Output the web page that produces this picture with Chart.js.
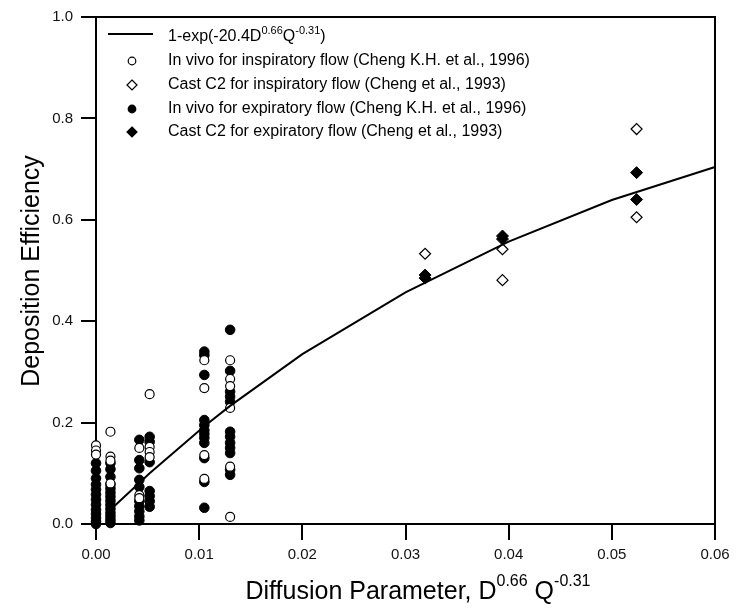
<!DOCTYPE html>
<html>
<head>
<meta charset="utf-8">
<script src="https://cdn.jsdelivr.net/npm/chart.js@4.4.1/dist/chart.umd.min.js"></script>
<style>
  html, body { margin: 0; padding: 0; background: #fff; }
</style>
</head>
<body>
<canvas id="deposition" width="748" height="614"></canvas>
<script>
var FONT = "'Liberation Sans', Arial, Helvetica, sans-serif";

// axis ticks
var xTicks = [0, 0.01, 0.02, 0.03, 0.04, 0.05, 0.06];
var yTicks = [0, 0.2, 0.4, 0.6, 0.8, 1.0];

// fitted curve 1-exp(-20.4 D^0.66 Q^-0.31)
var fitD = [0.0015, 0.0052, 0.0105, 0.013, 0.02, 0.03, 0.04, 0.05, 0.06];
var fitE = [0.03, 0.10, 0.193, 0.233, 0.335, 0.457, 0.557, 0.639, 0.704];

// in vivo, inspiratory flow (open circles): one D per column, several E
var vivoInspD = [0, 0.0014, 0.0042, 0.0052, 0.0105, 0.013];
var vivoInspE = [
  [0.155, 0.145, 0.137],
  [0.182, 0.133, 0.125, 0.08],
  [0.15, 0.057, 0.051],
  [0.256, 0.152, 0.142, 0.132],
  [0.323, 0.268, 0.136, 0.089],
  [0.323, 0.286, 0.272, 0.229, 0.113, 0.014]
];

// in vivo, expiratory flow (filled circles)
var vivoExpD = [0, 0.0014, 0.0042, 0.0052, 0.0105, 0.013];
var vivoExpE = [
  [0.12, 0.105, 0.09, 0.078, 0.068, 0.058, 0.048, 0.038, 0.028, 0.02, 0.012, 0.005, 0.0],
  [0.12, 0.108, 0.093, 0.078, 0.07, 0.062, 0.054, 0.046, 0.038, 0.03, 0.022, 0.015, 0.008, 0.002],
  [0.166, 0.126, 0.11, 0.087, 0.073, 0.045, 0.035, 0.025, 0.015, 0.007],
  [0.172, 0.162, 0.122, 0.065, 0.055, 0.045, 0.034],
  [0.34, 0.333, 0.294, 0.205, 0.195, 0.185, 0.178, 0.17, 0.16, 0.13, 0.083, 0.032],
  [0.383, 0.302, 0.261, 0.251, 0.241, 0.182, 0.172, 0.16, 0.15, 0.14, 0.107, 0.097]
];

// cast C2 (Cheng et al., 1993)
var castInspD = [0.0319, 0.0394, 0.0394, 0.0524, 0.0524];
var castInspE = [0.533, 0.542, 0.481, 0.779, 0.605];
var castExpD = [0.0319, 0.0319, 0.0394, 0.0394, 0.0524, 0.0524];
var castExpE = [0.491, 0.485, 0.568, 0.562, 0.693, 0.640];

function pairs(xs, ys) {
  return xs.map(function (x, i) { return { x: x, y: ys[i] }; });
}
function columns(xs, cols) {
  var out = [];
  xs.forEach(function (x, i) {
    cols[i].forEach(function (y) { out.push({ x: x, y: y }); });
  });
  return out;
}

// text with superscripts: parts = [[text, size, rise], ...]
function richWidth(ctx, parts) {
  var w = 0;
  parts.forEach(function (p) {
    ctx.font = p[1] + "px " + FONT;
    w += ctx.measureText(p[0]).width;
  });
  return w;
}
function drawRich(ctx, parts, x, y) {
  ctx.textAlign = "left";
  ctx.textBaseline = "alphabetic";
  parts.forEach(function (p) {
    ctx.font = p[1] + "px " + FONT;
    ctx.fillText(p[0], x, y - p[2]);
    x += ctx.measureText(p[0]).width;
  });
}

var framePlugin = {
  id: "frame",
  beforeDatasetsDraw: function (chart) {
    var a = chart.chartArea, ctx = chart.ctx;
    ctx.save();
    ctx.strokeStyle = "#000";
    ctx.lineWidth = 2;
    ctx.strokeRect(a.left, a.top, a.right - a.left, a.bottom - a.top);
    ctx.restore();
  }
};

var textPlugin = {
  id: "texts",
  afterDraw: function (chart) {
    var ctx = chart.ctx;
    ctx.save();
    ctx.fillStyle = "#000";

    // x title
    var xt = [["Diffusion Parameter, D", 25, 0], ["0.66", 16, 13], [" Q", 25, 0], ["-0.31", 16, 13]];
    var w = richWidth(ctx, xt);
    drawRich(ctx, xt, 418 - w / 2, 599);

    // y title
    ctx.save();
    ctx.translate(39, 271);
    ctx.rotate(-Math.PI / 2);
    ctx.font = "25px " + FONT;
    ctx.textAlign = "center";
    ctx.textBaseline = "alphabetic";
    ctx.fillText("Deposition Efficiency", 0, 0);
    ctx.restore();

    // legend
    var mx = 132, tx = 168;
    ctx.strokeStyle = "#000";
    ctx.lineWidth = 2;
    ctx.beginPath();
    ctx.moveTo(108, 34);
    ctx.lineTo(153, 34);
    ctx.stroke();
    drawRich(ctx, [["1-exp(-20.4D", 16, 0], ["0.66", 11, 7], ["Q", 16, 0], ["-0.31", 11, 7], [")", 16, 0]], tx, 41);

    var rows = [
      { y: 61, style: "circle", fill: false, label: "In vivo for inspiratory flow (Cheng K.H. et al., 1996)" },
      { y: 85, style: "diamond", fill: false, label: "Cast C2 for inspiratory flow (Cheng et al., 1993)" },
      { y: 109, style: "circle", fill: true, label: "In vivo for expiratory flow (Cheng K.H. et al., 1996)" },
      { y: 132, style: "diamond", fill: true, label: "Cast C2 for expiratory flow (Cheng et al., 1993)" }
    ];
    rows.forEach(function (r) {
      ctx.beginPath();
      if (r.style === "circle") {
        ctx.arc(mx, r.y, 3.8, 0, Math.PI * 2);
      } else {
        ctx.moveTo(mx, r.y - 5);
        ctx.lineTo(mx + 5, r.y);
        ctx.lineTo(mx, r.y + 5);
        ctx.lineTo(mx - 5, r.y);
        ctx.closePath();
      }
      ctx.lineWidth = 1.2;
      ctx.fillStyle = r.fill ? "#000" : "#fff";
      ctx.fill();
      ctx.stroke();
      ctx.fillStyle = "#000";
      ctx.font = "16px " + FONT;
      ctx.textBaseline = "middle";
      ctx.fillText(r.label, tx, r.y);
    });
    ctx.restore();
  }
};

var tickFont = { family: FONT, size: 15 };

new Chart(document.getElementById("deposition"), {
  type: "scatter",
  data: {
    datasets: [
      {
        type: "line",
        label: "1-exp(-20.4D0.66Q-0.31)",
        data: pairs(fitD, fitE),
        borderColor: "#000",
        borderWidth: 2,
        pointRadius: 0,
        fill: false,
        tension: 0,
        clip: false
      },
      {
        label: "In vivo for inspiratory flow (Cheng K.H. et al., 1996)",
        data: columns(vivoInspD, vivoInspE),
        pointStyle: "circle",
        pointRadius: 4.5,
        backgroundColor: "#fff",
        borderColor: "#000",
        borderWidth: 1.2,
        clip: false
      },
      {
        label: "Cast C2 for inspiratory flow (Cheng et al., 1993)",
        data: pairs(castInspD, castInspE),
        pointStyle: "rectRot",
        pointRadius: 5.5,
        backgroundColor: "#fff",
        borderColor: "#000",
        borderWidth: 1.2,
        clip: false
      },
      {
        label: "In vivo for expiratory flow (Cheng K.H. et al., 1996)",
        data: columns(vivoExpD, vivoExpE),
        pointStyle: "circle",
        pointRadius: 4.8,
        backgroundColor: "#000",
        borderColor: "#000",
        borderWidth: 1,
        clip: false
      },
      {
        label: "Cast C2 for expiratory flow (Cheng et al., 1993)",
        data: pairs(castExpD, castExpE),
        pointStyle: "rectRot",
        pointRadius: 6,
        backgroundColor: "#000",
        borderColor: "#000",
        borderWidth: 1,
        clip: false
      }
    ]
  },
  options: {
    responsive: false,
    animation: false,
    layout: { padding: { top: 17, right: 33, left: 0, bottom: 0 } },
    plugins: {
      legend: { display: false },
      tooltip: { enabled: false }
    },
    scales: {
      x: {
        type: "linear",
        min: 0,
        max: 0.06,
        afterFit: function (s) { s.height = 90; },
        afterBuildTicks: function (s) { s.ticks = xTicks.map(function (v) { return { value: v }; }); },
        ticks: {
          callback: function (v) { return v.toFixed(2); },
          font: tickFont,
          color: "#111",
          padding: 6,
          maxRotation: 0,
          autoSkip: false
        },
        grid: { drawOnChartArea: false, tickLength: 16, color: "#000", lineWidth: 2 },
        border: { color: "#000", width: 2 }
      },
      y: {
        type: "linear",
        min: 0,
        max: 1,
        afterFit: function (s) { s.width = 96; },
        afterBuildTicks: function (s) { s.ticks = yTicks.map(function (v) { return { value: v }; }); },
        ticks: {
          callback: function (v) { return v.toFixed(1); },
          font: tickFont,
          color: "#111",
          padding: 8,
          autoSkip: false
        },
        grid: { drawOnChartArea: false, tickLength: 15, color: "#000", lineWidth: 2 },
        border: { color: "#000", width: 2 }
      }
    }
  },
  plugins: [framePlugin, textPlugin]
});
</script>
</body>
</html>
